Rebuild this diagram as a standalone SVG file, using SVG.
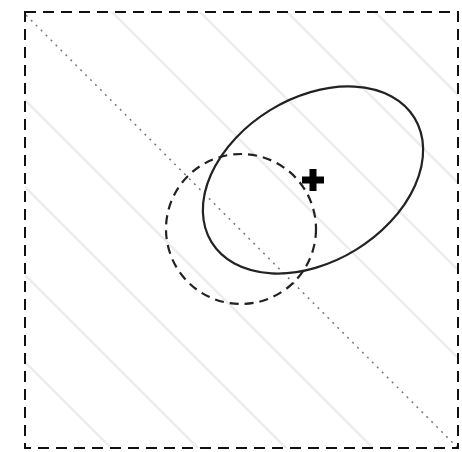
<svg xmlns="http://www.w3.org/2000/svg" width="462" height="452" viewBox="0 0 462 452">
<style>
.stripe{stroke:#ededed;stroke-width:2.5;fill:none}
.frame{stroke:#111;stroke-width:2;fill:none;stroke-dasharray:11,7}
.diag{stroke:#777;stroke-width:1.5;stroke-dasharray:2,5;fill:none}
.circ{stroke:#222;stroke-width:2.2;fill:none;stroke-dasharray:9,6}
.ell{stroke:#222;stroke-width:2.2;fill:none}
</style>
<defs>
<clipPath id="box"><rect x="25" y="12" width="433" height="436"/></clipPath>
</defs>
<rect width="462" height="452" fill="#fff"/>
<g id="stripes" clip-path="url(#box)">
<line class="stripe" x1="0" y1="-363" x2="900" y2="537"/>
<line class="stripe" x1="0" y1="-275" x2="900" y2="625"/>
<line class="stripe" x1="0" y1="-188" x2="900" y2="712"/>
<line class="stripe" x1="0" y1="-100" x2="900" y2="800"/>
<line class="stripe" x1="0" y1="75" x2="900" y2="975"/>
<line class="stripe" x1="0" y1="162" x2="900" y2="1062"/>
<line class="stripe" x1="0" y1="250" x2="900" y2="1150"/>
<line class="stripe" x1="0" y1="337" x2="900" y2="1237"/>
</g>
<g id="connectors">
<line id="diagonal" class="diag" x1="26" y1="15" x2="457" y2="447"/>
</g>
<g id="circle"><circle class="circ" cx="241" cy="229" r="75"/></g>
<g id="ellipse"><ellipse class="ell" cx="0" cy="0" rx="119" ry="82" transform="translate(313 180) rotate(-31.5)"/></g>
<g id="marker"><path d="M302 180H324M313 169V191" stroke="#000" stroke-width="7" fill="none"/></g>
<g id="frame"><rect class="frame" x="25" y="12" width="433" height="436"/></g>
</svg>
